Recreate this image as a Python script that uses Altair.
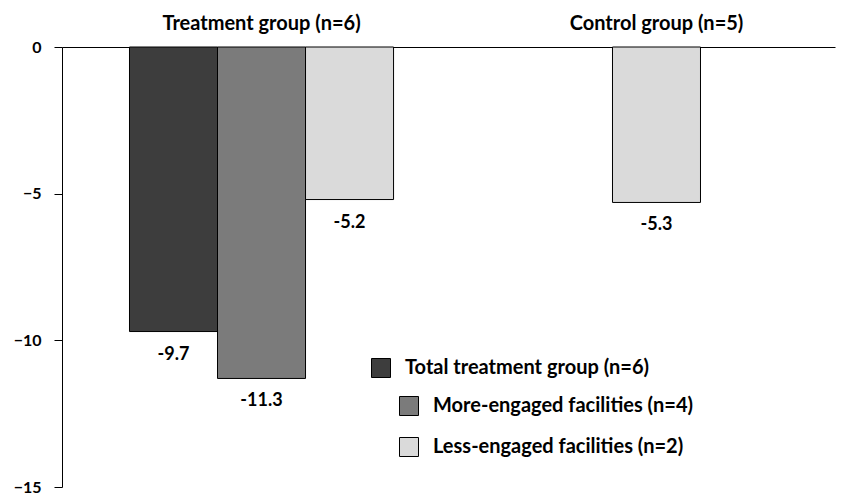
import altair as alt
import pandas as pd

groups = ["Treatment group (n=6)", "Control group (n=5)"]
series = ["Total treatment group (n=6)", "More-engaged facilities (n=4)", "Less-engaged facilities (n=2)"]
treat_values = [-9.7, -11.3, -5.2]
control_label = "Control group"
control_value = -5.3
colors = ["#3d3d3d", "#7b7b7b", "#dadada"]

rows = [{"group": groups[0], "series": s, "value": v, "label": f"{v}"} for s, v in zip(series, treat_values)]
rows.append({"group": groups[1], "series": control_label, "value": control_value, "label": f"{control_value}"})
df = pd.DataFrame(rows)

FONT = "Lato"

x = alt.X("group:N", sort=groups, title=None,
          scale=alt.Scale(domain=groups, paddingInner=0.0961, paddingOuter=0.0266, align=1),
          axis=alt.Axis(orient="top", ticks=False, labelAngle=0, labelFont=FONT, labelFontSize=20,
                        labelFontWeight="bold", labelColor="#000", labelPadding=14,
                        domainColor="#000", domainWidth=1, labelLimit=0))
y = alt.Y("value:Q", title=None,
          scale=alt.Scale(domain=[-15, 0], nice=False),
          axis=alt.Axis(values=[0, -5, -10, -15], grid=False, labelFont=FONT, labelFontSize=16,
                        labelFontWeight="bold", labelColor="#000", labelPadding=13, tickSize=8,
                        tickColor="#000", domainColor="#000", domainWidth=1))
xoff = alt.XOffset("series:N", sort=series,
                   scale=alt.Scale(domain=series, paddingInner=0, paddingOuter=0.528))

base = alt.Chart(df)

legend_common = dict(orient="none", title=None, symbolType="square", symbolSize=361,
                     symbolStrokeColor="#000", symbolStrokeWidth=1, labelFont=FONT,
                     labelFontSize=20, labelFontWeight="bold", labelColor="#000",
                     labelOffset=14, rowPadding=17, padding=0, labelLimit=0)

bar_total = base.transform_filter(alt.datum.series == series[0]).mark_bar(
    stroke="#000", strokeWidth=1).encode(
    x=x, y=y, xOffset=xoff,
    color=alt.Color("series:N", scale=alt.Scale(domain=[series[0]], range=[colors[0]]),
                    legend=alt.Legend(legendX=309, legendY=311, **legend_common)))

bar_sub = base.transform_filter(
    (alt.datum.series == series[1]) | (alt.datum.series == series[2])).mark_bar(
    stroke="#000", strokeWidth=1).encode(
    x=x, y=y, xOffset=xoff,
    color=alt.Color("series:N", scale=alt.Scale(domain=series[1:], range=colors[1:]),
                    legend=alt.Legend(legendX=337, legendY=349, **legend_common)))

bar_ctrl = base.transform_filter(alt.datum.series == control_label).mark_bar(
    stroke="#000", strokeWidth=1, size=88, color=colors[2]).encode(x=x, y=y)

text_treat = base.transform_filter(alt.datum.series != control_label).mark_text(
    font=FONT, fontSize=18, fontWeight="bold", color="#000", baseline="middle", dy=23).encode(
    x=x, y=y, xOffset=xoff, text="label:N")

text_ctrl = base.transform_filter(alt.datum.series == control_label).mark_text(
    font=FONT, fontSize=18, fontWeight="bold", color="#000", baseline="middle", dy=23).encode(
    x=x, y=y, text="label:N")

chart = alt.layer(bar_total, bar_sub, bar_ctrl, text_treat, text_ctrl).resolve_scale(
    color="independent").properties(width=773, height=440).configure_view(stroke=None)

chart.save("out.html", embed_options={"renderer": "svg", "actions": False})
